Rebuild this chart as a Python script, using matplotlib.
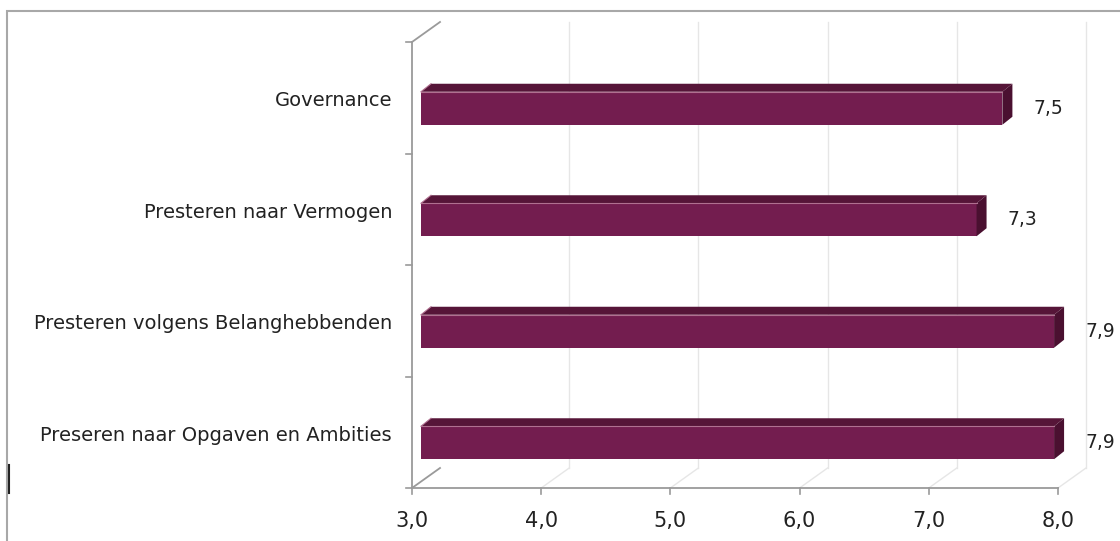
import matplotlib
matplotlib.use("Agg")
import matplotlib.pyplot as plt
from matplotlib.patches import Polygon, Rectangle
from matplotlib.lines import Line2D
from matplotlib.transforms import IdentityTransform

categories = ["Governance", "Presteren naar Vermogen",
              "Presteren volgens Belanghebbenden", "Preseren naar Opgaven en Ambities"]
values = [7.5, 7.3, 7.9, 7.9]
xticks = [3.0, 4.0, 5.0, 6.0, 7.0, 8.0]
xtick_labels = ["3,0", "4,0", "5,0", "6,0", "7,0", "8,0"]
value_labels = ["7,5", "7,3", "7,9", "7,9"]

W, H = 1120, 541
DPI = 100
fig = plt.figure(figsize=(W / DPI, H / DPI), dpi=DPI)
fig.patch.set_facecolor("white")

# axes: front plane in pixels x 412..1058, y 42..488 (image coords)
L, R, T, B = 412, 1058, 42, 488
ax = fig.add_axes([L / W, 1 - B / H, (R - L) / W, (B - T) / H])
ax.set_xlim(3, 8)
n = len(categories)
ax.set_ylim(n - 0.5, -0.5)
ax.axis("off")

DX, DY = 28, 20          # depth of 3D box (pixels, right/up)
BDX0, BDY0 = 9, 7        # bar front face depth
BDX, BDY = 10, 8         # bar depth
bar_h_px = 33
bar_shift_px = 10.5      # bar center below band center (image px)

front = "#731D4F"
topc = "#561538"
sidec = "#4A1030"
grid_c = "#E6E6E6"
axis_c = "#9A9A9A"
txt_c = "#222222"

idt = IdentityTransform()

def disp(x, y):
    return ax.transData.transform((x, y))

def add_line(p0, p1, color, lw=1.0, z=1):
    fig.add_artist(Line2D([p0[0], p1[0]], [p0[1], p1[1]], color=color,
                          lw=lw, transform=idt, zorder=z))

ybot = disp(3, n - 0.5)[1]
ytop = disp(3, -0.5)[1]

# gridlines (back wall + floor)
for xv in xticks:
    px = disp(xv, 0)[0]
    if xv != 3.0:
        add_line((px + DX, ybot + DY), (px + DX, ytop + DY), grid_c, 1.0)
        add_line((px, ybot), (px + DX, ybot + DY), grid_c, 1.0)

# left wall / axes lines
pxl = disp(3, 0)[0]
pxr = disp(8, 0)[0]
add_line((pxl, ybot), (pxl, ytop), axis_c, 1.3, 3)
add_line((pxl, ytop), (pxl + DX, ytop + DY), axis_c, 1.3, 3)
add_line((pxl, ybot), (pxl + DX, ybot + DY), axis_c, 1.3, 3)
add_line((pxl, ybot), (pxr, ybot), axis_c, 1.3, 3)
for xv in xticks:
    px = disp(xv, 0)[0]
    add_line((px, ybot), (px, ybot - 6), axis_c, 1.2, 3)
for i in range(n + 1):
    py = disp(3, i - 0.5)[1]
    add_line((pxl - 6, py), (pxl, py), axis_c, 1.2, 3)

# bars
for i, v in enumerate(values):
    cy = disp(3, i)[1] - bar_shift_px
    xa = disp(3, i)[0] + BDX0
    xb = disp(v, i)[0] + BDX0
    y1 = cy + bar_h_px / 2
    y0 = cy - bar_h_px / 2
    fig.add_artist(Polygon([(xa, y0), (xb, y0), (xb, y1), (xa, y1)],
                           closed=True, facecolor=front, edgecolor="none",
                           transform=idt, zorder=5))
    fig.add_artist(Polygon([(xa, y1), (xb, y1), (xb + BDX, y1 + BDY), (xa + BDX, y1 + BDY)],
                           closed=True, facecolor=topc, edgecolor="none",
                           transform=idt, zorder=5))
    fig.add_artist(Polygon([(xb, y0), (xb + BDX, y0 + BDY), (xb + BDX, y1 + BDY), (xb, y1)],
                           closed=True, facecolor=sidec, edgecolor="none",
                           transform=idt, zorder=5))
    add_line((xa + 0.5, y1), (xb, y1), "#B07090", 0.8, 6)
    add_line((xa, y1), (xa + BDX, y1 + BDY), "#B07090", 0.8, 6)
    # value label
    lx = disp(v, i)[0] + 40
    fig.text(lx / W, cy / H, value_labels[i], ha="left", va="center",
             fontsize=13.5, color=txt_c, family="DejaVu Sans")

# category labels
for i, c in enumerate(categories):
    py = disp(3, i)[1] - 3
    fig.text(392 / W, py / H, c, ha="right", va="center", fontsize=14,
             color=txt_c, family="DejaVu Sans")

# x tick labels
for xv, lab in zip(xticks, xtick_labels):
    px = disp(xv, 0)[0]
    fig.text(px / W, (H - 521) / H, lab, ha="center", va="center",
             fontsize=15, color=txt_c, family="DejaVu Sans")

# outer border
fig.add_artist(Rectangle((7 / W, -0.05), 1.2, (H - 11) / H + 0.05,
                         transform=fig.transFigure, facecolor="none",
                         edgecolor="#A8A8A8", lw=1.5, zorder=0))
# small dark mark at left
add_line((9, H - 465), (9, H - 493), "#222222", 1.5, 7)

fig.savefig("out.png", dpi=DPI)
